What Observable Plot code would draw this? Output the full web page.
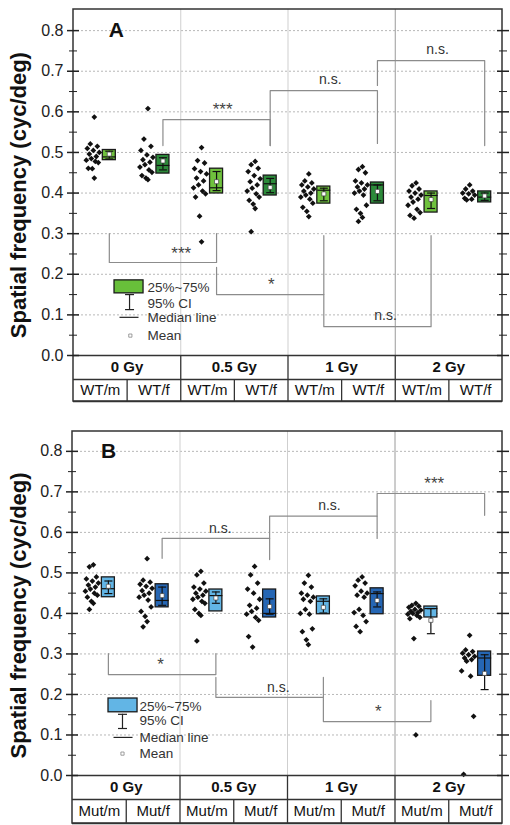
<!DOCTYPE html>
<html><head><meta charset="utf-8">
<script src="https://cdn.jsdelivr.net/npm/d3@7"></script>
<script src="https://cdn.jsdelivr.net/npm/@observablehq/plot@0.6"></script>
<style>
body{margin:0;background:#fff;width:510px;font-family:"Liberation Sans",Arial,sans-serif;}
#chart svg{display:block;}
</style></head><body><div id="chart"></div>
<script>
// ---------- categories / labels ----------
const doses = ["0 Gy", "0.5 Gy", "1 Gy", "2 Gy"];
const subsA = ["WT/m", "WT/f", "WT/m", "WT/f", "WT/m", "WT/f", "WT/m", "WT/f"];
const subsB = ["Mut/m", "Mut/f", "Mut/m", "Mut/f", "Mut/m", "Mut/f", "Mut/m", "Mut/f"];
const yTicks = [0, 0.1, 0.2, 0.3, 0.4, 0.5, 0.6, 0.7, 0.8];
const yMinor = [0.05, 0.15, 0.25, 0.35, 0.45, 0.55, 0.65, 0.75];
const legendLabels = ["25%~75%", "95% CI", "Median line", "Mean"];
const yLabel = "Spatial frequency (cyc/deg)";

// ---------- Panel A: individual animals ----------
const a0m  = [0.587,0.521,0.515,0.51,0.505,0.5,0.496,0.49,0.485,0.481,0.478,0.475,0.461,0.46,0.437];
const a0f  = [0.608,0.533,0.515,0.505,0.494,0.488,0.482,0.476,0.47,0.464,0.457,0.451,0.443,0.437,0.433];
const a05m = [0.512,0.48,0.474,0.46,0.453,0.447,0.437,0.43,0.42,0.413,0.405,0.398,0.39,0.343,0.28];
const a05f = [0.478,0.47,0.461,0.453,0.443,0.435,0.428,0.42,0.412,0.405,0.398,0.39,0.382,0.373,0.362,0.305];
const a1m  = [0.447,0.43,0.425,0.42,0.415,0.41,0.405,0.4,0.395,0.39,0.385,0.375,0.365,0.355,0.342];
const a1f  = [0.465,0.458,0.45,0.43,0.425,0.42,0.415,0.41,0.405,0.4,0.395,0.37,0.36,0.35,0.34,0.33];
const a2m  = [0.425,0.418,0.41,0.405,0.4,0.395,0.39,0.385,0.378,0.37,0.36,0.352,0.345,0.338];
const a2f  = [0.42,0.41,0.405,0.4,0.398,0.395,0.387,0.385,0.383];
// Panel A: box statistics (0m,0f,0.5m,0.5f,1m,1f,2m,2f)
const aQ1   = [0.481,0.448,0.399,0.394,0.374,0.374,0.352,0.377];
const aQ3   = [0.506,0.494,0.460,0.443,0.416,0.426,0.404,0.404];
const aMed  = [0.489,0.468,0.413,0.423,0.407,0.420,0.394,0.390];
const aMean = [0.496,0.479,0.428,0.414,0.398,0.404,0.384,0.393];
const aCiLo = [0.484,0.457,0.406,0.401,0.381,0.381,0.362,0.382];
const aCiHi = [0.503,0.487,0.453,0.436,0.412,0.420,0.400,0.400];

// ---------- Panel B ----------
const b0m  = [0.52,0.515,0.49,0.485,0.48,0.475,0.47,0.465,0.46,0.455,0.45,0.445,0.44,0.43,0.425,0.41];
const b0f  = [0.535,0.482,0.477,0.472,0.467,0.462,0.456,0.45,0.445,0.44,0.433,0.416,0.405,0.393,0.38,0.367];
const b05m = [0.504,0.495,0.475,0.465,0.46,0.455,0.45,0.445,0.44,0.435,0.43,0.425,0.41,0.4,0.395,0.332];
const b05f = [0.516,0.495,0.475,0.46,0.45,0.435,0.42,0.413,0.405,0.398,0.39,0.383,0.343,0.317];
const b1m  = [0.494,0.475,0.465,0.45,0.445,0.44,0.435,0.43,0.41,0.4,0.398,0.362,0.355,0.335,0.323];
const b1f  = [0.49,0.482,0.475,0.468,0.455,0.45,0.445,0.44,0.41,0.402,0.395,0.38,0.368,0.355];
const b2m  = [0.425,0.42,0.418,0.415,0.41,0.408,0.405,0.402,0.4,0.398,0.395,0.39,0.387,0.338,0.1];
const b2f  = [0.346,0.31,0.306,0.302,0.298,0.294,0.29,0.286,0.282,0.258,0.245,0.146,0.003];
const bQ1   = [0.440,0.415,0.405,0.390,0.398,0.398,0.390,0.246];
const bQ3   = [0.489,0.472,0.459,0.459,0.442,0.462,0.417,0.306];
const bMed  = [0.461,0.432,0.444,0.400,0.430,0.449,0.412,0.290];
const bMean = [0.467,0.444,0.438,0.417,0.415,0.432,0.383,0.252];
const bCiLo = [0.449,0.420,0.425,0.398,0.401,0.416,0.350,0.212];
const bCiHi = [0.480,0.465,0.453,0.436,0.436,0.453,0.412,0.298];

// ---------- significance comparisons (column a vs column b) ----------
const sigA = [
  {a:1, b:3, ya:0.517, yb:0.517, top:0.581, label:"***", lx:2.78, ly:0.605},
  {a:3, b:5, ya:0.517, yb:0.522, top:0.652, label:"n.s.", lx:4.79, ly:0.679},
  {a:5, b:7, ya:0.665, yb:0.517, top:0.726, label:"n.s.", lx:6.79, ly:0.753},
  {a:0, b:2, ya:0.300, yb:0.300, top:0.229, label:"***", lx:2.01, ly:0.250},
  {a:2, b:4, ya:0.217, yb:0.295, top:0.150, label:"*", lx:3.69, ly:0.175},
  {a:4, b:6, ya:0.150, yb:0.295, top:0.071, label:"n.s.", lx:5.82, ly:0.098}
];
const sigB = [
  {a:1, b:3, ya:0.536, yb:0.533, top:0.585, label:"n.s.", lx:2.75, ly:0.610},
  {a:3, b:5, ya:0.585, yb:0.585, top:0.640, label:"n.s.", lx:4.78, ly:0.667},
  {a:5, b:7, ya:0.640, yb:0.642, top:0.696, label:"***", lx:6.73, ly:0.720},
  {a:0, b:2, ya:0.301, yb:0.301, top:0.249, label:"*", lx:1.64, ly:0.273},
  {a:2, b:4, ya:0.242, yb:0.242, top:0.193, label:"n.s.", lx:3.83, ly:0.217},
  {a:4, b:6, ya:0.193, yb:0.185, top:0.133, label:"*", lx:5.69, ly:0.157}
];

const jitterPx = [-6,-10,-3,-13,-7,-1,-11,-4,-9,-14,-5,-2,-12,-8];
const hline = {draw(ctx, size) { const r = Math.sqrt(size / Math.PI); ctx.moveTo(-r, 0); ctx.lineTo(r, 0); }};

function makePanel(c) {
  const W = 510;
  const innerH = c.height - c.mt - c.mb;
  const ppu = innerH / c.yTop;
  const colPx = (W - c.ml - c.mr) / 8;
  const row1 = -c.row1Px / ppu, row2 = -c.row2Px / ppu;
  const cols = d3.range(8);
  const pts = c.points.flatMap((arr, i) => arr.map((v, k) => ({x: i + 0.5 + jitterPx[k % jitterPx.length] / colPx, v})));
  const boxes = cols.map(i => ({x: i + 0.5, q1: c.q1[i], q3: c.q3[i], med: c.med[i], mean: c.mean[i],
    lo: c.ciLo[i], hi: c.ciHi[i], fill: i % 2 ? c.dark : c.light}));
  const brLines = c.sig.flatMap((b, k) => [
    {k, x: b.a + 0.5, y: b.ya}, {k, x: b.a + 0.5, y: b.top},
    {k, x: b.b + 0.5, y: b.top}, {k, x: b.b + 0.5, y: b.yb}]);
  const stars = c.sig.filter(s => s.label !== "n.s.");
  const ns = c.sig.filter(s => s.label === "n.s.");
  const L = c.legend;
  const bx = 9;
  const ink = "#222";
  return Plot.plot({
    width: W, height: c.height,
    marginTop: c.mt, marginBottom: c.mb, marginLeft: c.ml, marginRight: c.mr,
    x: {domain: [0, 8], axis: null},
    y: {domain: [0, c.yTop], axis: null, label: null},
    style: {background: "#fff", fontFamily: "'Liberation Sans', Arial, sans-serif", color: ink, overflow: "visible"},
    marks: [
      Plot.ruleY(yTicks.filter(t => t > 0), {stroke: "#b8b8b8", strokeDasharray: "2,2", strokeWidth: 1}),
      Plot.ruleX([2, 4], {y1: 0, y2: c.yTop, stroke: "#cfcfcf", strokeWidth: 1}),
      Plot.ruleX([6], {y1: 0, y2: c.yTop, stroke: "#9a9a9a", strokeWidth: 1}),
      // brackets
      Plot.line(brLines, {x: "x", y: "y", z: "k", dx: bx, stroke: "#8c8c8c", strokeWidth: 1.2}),
      Plot.text(ns, {x: "lx", y: "ly", text: "label", fontSize: 14, fill: "#333"}),
      Plot.text(stars, {x: "lx", y: "ly", text: "label", fontSize: 17, fill: "#444"}),
      // points
      Plot.dot(pts, {x: "x", y: "v", symbol: "diamond2", r: 2.6, fill: "#111", stroke: "none"}),
      // boxes
      Plot.rect(boxes, {x1: "x", x2: "x", y1: "q1", y2: "q3", dx: bx, insetLeft: -6.5, insetRight: -6.5,
        fill: "fill", stroke: "#1a1a1a", strokeWidth: 1.3}),
      Plot.ruleX(boxes, {x: "x", y1: "lo", y2: "hi", dx: bx, stroke: "#111", strokeWidth: 1.2}),
      Plot.dot(boxes, {x: "x", y: "lo", dx: bx, symbol: hline, r: 4, stroke: "#111", strokeWidth: 1.2, fill: "none"}),
      Plot.dot(boxes, {x: "x", y: "hi", dx: bx, symbol: hline, r: 4, stroke: "#111", strokeWidth: 1.2, fill: "none"}),
      Plot.dot(boxes, {x: "x", y: "med", dx: bx, symbol: hline, r: 6.5, stroke: "#111", strokeWidth: 1.2, fill: "none"}),
      Plot.dot(boxes, {x: "x", y: "mean", dx: bx, symbol: "square", r: 2.3, fill: "#fff", stroke: "#444", strokeWidth: 0.7}),
      // legend
      Plot.rect([0], {x1: L.bx1, x2: L.bx2, y1: L.by1, y2: L.by2, fill: c.legendFill, stroke: "#1a1a1a", strokeWidth: 1.3}),
      Plot.ruleX([L.wx], {y1: L.wlo, y2: L.whi, stroke: "#222", strokeWidth: 1.2}),
      Plot.dot([L.wlo, L.whi], {x: L.wx, y: d => d, symbol: hline, r: 4.5, stroke: "#222", strokeWidth: 1.2, fill: "none"}),
      Plot.dot([L.my], {x: L.mx, y: d => d, symbol: hline, r: 9.5, stroke: "#222", strokeWidth: 1.2, fill: "none"}),
      Plot.dot([L.meany], {x: L.meanx, y: d => d, symbol: "square", r: 1.8, fill: "#fff", stroke: "#777", strokeWidth: 0.7}),
      Plot.text(legendLabels, {x: L.tx, y: (d, i) => L.ty[i], text: d => d, textAnchor: "start", fontSize: 13.5, fill: "#333"}),
      // panel letter
      Plot.text([c.letter], {x: c.letterX, y: 0.8, text: d => d, fontSize: 21, fontWeight: "bold", fill: "#111"}),
      // table
      Plot.ruleY([0, row1, row2], {x1: 0, x2: 8, stroke: "#333", strokeWidth: 1.3}),
      Plot.ruleX([2, 4, 6], {y1: 0, y2: row2, stroke: "#333", strokeWidth: 1.3}),
      Plot.ruleX([1, 3, 5, 7], {y1: row1, y2: row2, stroke: "#333", strokeWidth: 1.3}),
      Plot.text(doses, {x: (d, i) => 2 * i + 1, y: row1 / 2, text: d => d, fontSize: 15, fontWeight: "bold", fill: "#111"}),
      Plot.text(c.subs, {x: (d, i) => i + 0.5, y: (row1 + row2) / 2, text: d => d, fontSize: 15, fill: "#111"}),
      // frame
      Plot.rect([0], {x1: 0, x2: 8, y1: row2, y2: c.yTop, fill: "none", stroke: "#333", strokeWidth: 1.5}),
      // axes
      Plot.axisY(yTicks, {anchor: "left", tickSize: 6, tickPadding: 4, tickFormat: d3.format(".1f"), fontSize: 16, label: null, strokeWidth: 1.5, stroke: "#222"}),
      Plot.axisY(yTicks, {anchor: "left", tickSize: 6, dx: 6, tickFormat: () => "", label: null, strokeWidth: 1.5, stroke: "#222"}),
      Plot.axisY(yMinor, {anchor: "left", tickSize: 4, tickFormat: () => "", label: null, stroke: "#222"}),
      Plot.axisY(yMinor, {anchor: "left", tickSize: 4, dx: 4, tickFormat: () => "", label: null, stroke: "#222"}),
      Plot.axisY(yTicks, {anchor: "right", tickSize: 6, tickFormat: () => "", label: null, strokeWidth: 1.5, stroke: "#222"}),
      Plot.axisY(yTicks, {anchor: "right", tickSize: 6, dx: -6, tickFormat: () => "", label: null, strokeWidth: 1.5, stroke: "#222"}),
      Plot.axisY(yMinor, {anchor: "right", tickSize: 4, tickFormat: () => "", label: null, stroke: "#222"}),
      Plot.axisY(yMinor, {anchor: "right", tickSize: 4, dx: -4, tickFormat: () => "", label: null, stroke: "#222"}),
      Plot.text([yLabel], {y: 0.395, frameAnchor: "left", dx: 18 - c.ml, rotate: -90, text: d => d,
        textAnchor: "middle", lineAnchor: "middle", fontSize: 22, fontWeight: "bold", fill: "#111"})
    ]
  });
}

const panelA = makePanel({
  height: 402, mt: 9, mb: 47, ml: 73, mr: 8, yTop: 0.852, row1Px: 24, row2Px: 46,
  points: [a0m, a0f, a05m, a05f, a1m, a1f, a2m, a2f],
  q1: aQ1, q3: aQ3, med: aMed, mean: aMean, ciLo: aCiLo, ciHi: aCiHi,
  light: "#6fc23d", dark: "#2c8a3a", legendFill: "#68bf3a",
  subs: subsA, sig: sigA, letter: "A", letterX: 0.8,
  legend: {bx1: 0.765, bx2: 1.306, by1: 0.153, by2: 0.185, wx: 1.045, wlo: 0.113, whi: 0.150,
    mx: 1.035, my: 0.094, meanx: 1.06, meany: 0.049, tx: 1.38, ty: [0.167, 0.128, 0.094, 0.049]}
});
const panelB = makePanel({
  height: 423, mt: 29, mb: 50, ml: 72, mr: 8, yTop: 0.849, row1Px: 24, row2Px: 48,
  points: [b0m, b0f, b05m, b05f, b1m, b1f, b2m, b2f],
  q1: bQ1, q3: bQ3, med: bMed, mean: bMean, ciLo: bCiLo, ciHi: bCiHi,
  light: "#62b5e5", dark: "#2566b4", legendFill: "#62b5e5",
  subs: subsB, sig: sigB, letter: "B", letterX: 0.67,
  legend: {bx1: 0.67, bx2: 1.21, by1: 0.156, by2: 0.19, wx: 0.93, wlo: 0.116, whi: 0.151,
    mx: 0.94, my: 0.094, meanx: 0.93, meany: 0.054, tx: 1.247, ty: [0.17, 0.136, 0.094, 0.054]}
});
document.getElementById("chart").append(panelA, panelB);
</script>
</body></html>
